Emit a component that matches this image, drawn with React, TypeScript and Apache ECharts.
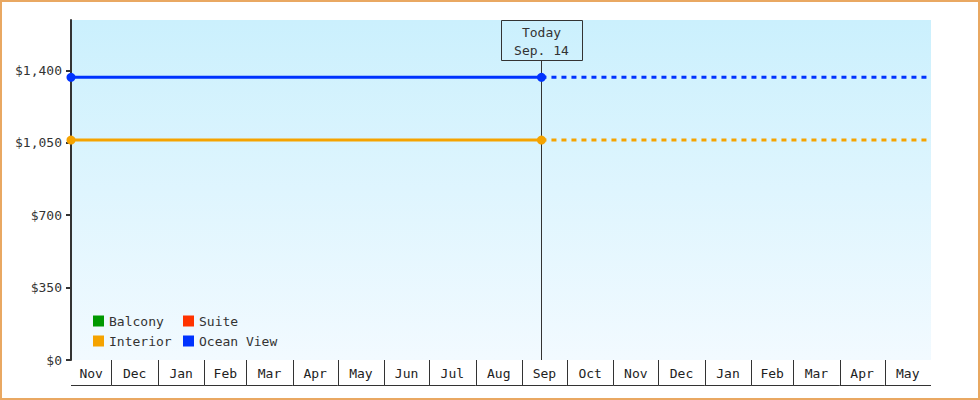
import React, { useEffect, useRef } from 'react';
import * as echarts from 'echarts';

// month cells under the plot
const monthLabels = ['Nov', 'Dec', 'Jan', 'Feb', 'Mar', 'Apr', 'May', 'Jun', 'Jul', 'Aug', 'Sep', 'Oct', 'Nov', 'Dec', 'Jan', 'Feb', 'Mar', 'Apr', 'May'];
const monthStarts = ['2024-11-01', '2024-12-01', '2025-01-01', '2025-02-01', '2025-03-01', '2025-04-01', '2025-05-01', '2025-06-01', '2025-07-01', '2025-08-01', '2025-09-01', '2025-10-01', '2025-11-01', '2025-12-01', '2026-01-01', '2026-02-01', '2026-03-01', '2026-04-01', '2026-05-01'];
const axisStart = '2024-11-04';
const axisEnd = '2026-06-01';

// price history (start, today) and projection to the end
const pointDates = ['2024-11-04', '2025-09-14'];
const oceanViewPrices = [1366, 1366];
const interiorPrices = [1063, 1063];
const todayDate = '2025-09-14';
const todayLabel = 'Today\nSep. 14';

const yTicks = [0, 350, 700, 1050, 1400];
const yMax = 1643;

const FONT = "'DejaVu Sans Mono', monospace";
const ts = (s: string) => Date.parse(s + 'T00:00:00Z');

const App = () => {
  const chartRef = useRef<HTMLDivElement>(null);

  useEffect(() => {
    const chart = echarts.init(chartRef.current, null, { renderer: 'svg' });
    const minX = ts(axisStart);
    const maxX = ts(axisEnd);

    const cells = monthLabels.map((m, i) => {
      const s = Math.max(ts(monthStarts[i]), minX);
      const e = i + 1 < monthStarts.length ? ts(monthStarts[i + 1]) : maxX;
      return [s, Math.min(e, maxX), 0, i];
    });

    const hist = (vals: number[]) => pointDates.map((d, i) => [ts(d), vals[i]]);
    const proj = (vals: number[]) => [[ts(todayDate), vals[vals.length - 1]], [maxX, vals[vals.length - 1]]];

    const legendBase = {
      orient: 'vertical',
      top: 309,
      icon: 'rect',
      itemWidth: 11,
      itemHeight: 11,
      itemGap: 6,
      selectedMode: false,
      textStyle: { fontFamily: FONT, fontSize: 13, color: '#333', lineHeight: 14 },
    };

    chart.setOption({
      animation: false,
      textStyle: { fontFamily: FONT },
      graphic: [
        {
          type: 'rect',
          shape: { x: 1, y: 1, width: 978, height: 398 },
          style: { fill: 'none', stroke: '#e9a862', lineWidth: 2 },
        },
      ],
      grid: {
        left: 71,
        right: 49,
        top: 20,
        bottom: 40,
        show: true,
        borderWidth: 0,
        backgroundColor: new echarts.graphic.LinearGradient(0, 0, 0, 1, [
          { offset: 0, color: '#cbf0fd' },
          { offset: 1, color: '#f2faff' },
        ]),
      },
      legend: [
        { ...legendBase, data: ['Balcony', 'Interior'], left: 88 },
        { ...legendBase, data: ['Suite', 'Ocean View'], left: 178 },
      ],
      xAxis: {
        type: 'time',
        min: minX,
        max: maxX,
        show: false,
      },
      yAxis: {
        type: 'value',
        min: 0,
        max: yMax,
        splitLine: { show: false },
        axisLine: { show: true, lineStyle: { color: '#333', width: 2 } },
        axisTick: { show: true, length: 5, lineStyle: { color: '#333', width: 2 }, customValues: yTicks },
        axisLabel: {
          customValues: yTicks,
          margin: 9,
          color: '#333',
          fontFamily: FONT,
          fontSize: 13,
          formatter: (v: number) => '$' + v.toLocaleString('en-US'),
        },
      },
      series: [
        { name: 'Balcony', type: 'line', data: [], color: '#009900' },
        { name: 'Suite', type: 'line', data: [], color: '#ff3300' },
        {
          name: 'Interior',
          type: 'line',
          color: '#f5a300',
          data: hist(interiorPrices),
          symbol: 'circle',
          symbolSize: 9,
          lineStyle: { width: 3 },
          clip: false,
          z: 5,
        },
        {
          name: 'Ocean View',
          type: 'line',
          color: '#0033ff',
          data: hist(oceanViewPrices),
          symbol: 'circle',
          symbolSize: 9,
          lineStyle: { width: 3 },
          clip: false,
          z: 5,
        },
        {
          name: 'Interior',
          type: 'line',
          color: '#f5a300',
          data: proj(interiorPrices),
          showSymbol: false,
          lineStyle: { width: 3, type: [5, 5] },
          z: 4,
        },
        {
          name: 'Ocean View',
          type: 'line',
          color: '#0033ff',
          data: proj(oceanViewPrices),
          showSymbol: false,
          lineStyle: { width: 3, type: [5, 5] },
          z: 4,
        },
        {
          // today marker
          type: 'custom',
          silent: true,
          clip: false,
          z: 3,
          data: [[ts(todayDate), yMax]],
          encode: { x: 0, y: 1 },
          renderItem: (params: any, api: any) => {
            const p = api.coord([api.value(0), api.value(1)]);
            const b = api.coord([api.value(0), 0]);
            const x = Math.round(p[0]) + 0.5;
            const top = Math.round(p[1]) + 0.5;
            return {
              type: 'group',
              children: [
                {
                  type: 'line',
                  shape: { x1: x, y1: top + 40, x2: x, y2: b[1] },
                  style: { stroke: '#333', lineWidth: 1 },
                },
                {
                  type: 'rect',
                  shape: { x: x - 40, y: top, width: 81, height: 40 },
                  style: { fill: 'none', stroke: '#333', lineWidth: 1 },
                },
                {
                  type: 'text',
                  style: {
                    text: todayLabel,
                    x: x,
                    y: top + 21,
                    align: 'center',
                    verticalAlign: 'middle',
                    fontFamily: FONT,
                    fontSize: 13,
                    lineHeight: 18,
                    fill: '#333',
                  },
                },
              ],
            };
          },
        },
        {
          // month cells
          type: 'custom',
          silent: true,
          clip: false,
          data: cells,
          encode: { x: [0, 1], y: 2 },
          renderItem: (params: any, api: any) => {
            const s = api.coord([api.value(0), 0]);
            const e = api.coord([api.value(1), 0]);
            const y0 = Math.round(s[1]);
            const idx = api.value(3);
            const children: any[] = [
              {
                type: 'line',
                shape: { x1: s[0], y1: y0 + 25.5, x2: e[0], y2: y0 + 25.5 },
                style: { stroke: '#333', lineWidth: 1 },
              },
              {
                type: 'text',
                style: {
                  text: monthLabels[idx],
                  x: (s[0] + e[0]) / 2,
                  y: y0 + 13,
                  align: 'center',
                  verticalAlign: 'middle',
                  fontFamily: FONT,
                  fontSize: 13,
                  fill: '#222',
                },
              },
            ];
            if (idx > 0) {
              const x = Math.round(s[0]) + 0.5;
              children.push({
                type: 'line',
                shape: { x1: x, y1: y0, x2: x, y2: y0 + 25.5 },
                style: { stroke: '#333', lineWidth: 1 },
              });
            }
            return { type: 'group', children };
          },
        },
      ],
    });

    return () => {
      chart.dispose();
    };
  }, []);

  return (
    <div
      ref={chartRef}
      style={{ position: 'fixed', left: 0, top: 0, width: '980px', height: '400px', background: '#fff' }}
    />
  );
};

export default App;
